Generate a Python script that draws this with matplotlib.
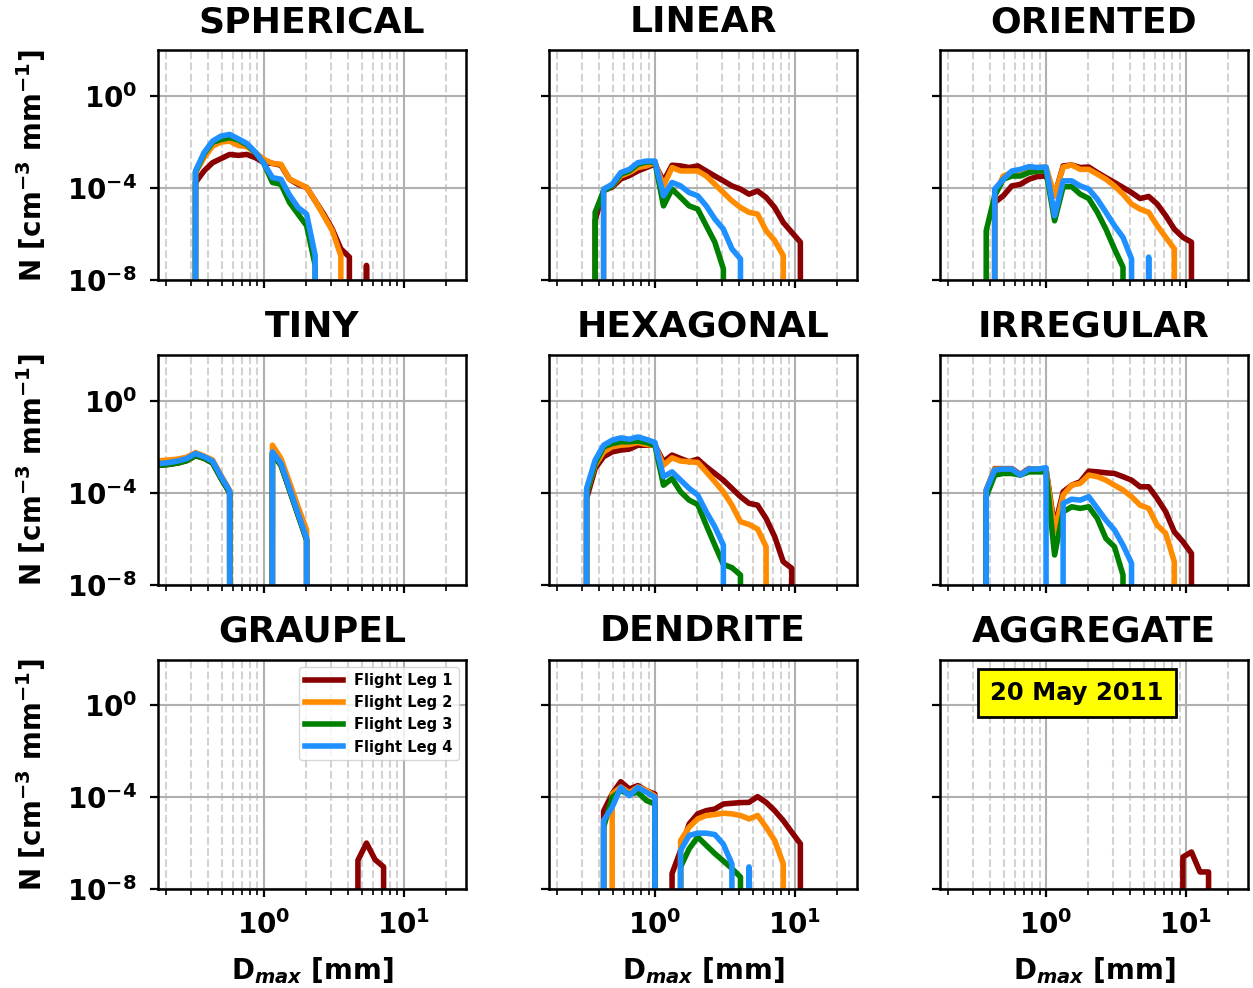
import numpy as np
import matplotlib.pyplot as plt
from matplotlib.ticker import NullLocator

plt.rcParams['font.weight'] = 'bold'
plt.rcParams['axes.titleweight'] = 'bold'
plt.rcParams['axes.labelweight'] = 'bold'

# Dmax bin centres [mm]
D = [0.140, 0.161, 0.185, 0.213, 0.245, 0.282, 0.325, 0.374, 0.430, 0.495,
     0.570, 0.656, 0.755, 0.869, 1.000, 1.151, 1.325, 1.525, 1.755, 2.020,
     2.325, 2.677, 3.081, 3.546, 4.082, 4.698, 5.408, 6.224, 7.165, 8.247,
     9.492, 10.93, 12.58, 14.48, 16.66]

legs = ["Flight Leg 1", "Flight Leg 2", "Flight Leg 3", "Flight Leg 4"]
colors = ["darkred", "darkorange", "green", "dodgerblue"]
titles = ["SPHERICAL", "LINEAR", "ORIENTED", "TINY", "HEXAGONAL", "IRREGULAR",
          "GRAUPEL", "DENDRITE", "AGGREGATE"]

# each leg: (first bin index, log10 N values), None = empty bin
spherical = [
    (6, [-3.75, -3.25, -2.89, -2.71, -2.53, -2.57, -2.53, -2.67, -2.89, -2.92, -3.0,
         -3.61, -3.83, -3.97, -4.55, -5.13, -5.78, -6.64, -7.0, None, -7.36]),
    (6, [-3.32, -2.67, -2.17, -1.99, -1.95, -2.14, -2.19, -2.45, -2.74, -2.92, -2.96,
         -3.61, -3.78, -3.97, -4.55, -5.2, -5.85, -6.93]),
    (6, [-3.3, -2.5, -2.0, -1.88, -1.8, -1.9, -2.1, -2.45, -2.92, -3.75, -3.83,
         -4.62, -5.13, -5.63, -7.36]),
    (6, [-3.25, -2.45, -1.95, -1.73, -1.66, -1.85, -2.05, -2.43, -2.92, -3.54, -3.61,
         -4.3, -4.84, -5.13, -6.93]),
]
linear = [
    (7, [-5.4, -4.1, -3.95, -3.6, -3.45, -3.25, -3.1, -2.95, -3.7, -3.0, -3.03, -3.1,
         -3.03, -3.25, -3.47, -3.68, -3.9, -4.04, -4.26, -4.12, -4.4, -4.84, -5.49,
         -5.92, -6.35]),
    (8, [-4.04, -3.9, -3.47, -3.32, -3.1, -3.03, -2.89, -3.9, -3.1, -3.25, -3.25,
         -3.25, -3.47, -3.83, -4.19, -4.55, -4.84, -5.05, -5.13, -5.85, -6.28, -6.93]),
    (7, [-5.05, -4.12, -3.9, -3.39, -3.25, -2.96, -2.86, -2.86, -4.77, -4.04, -4.4,
         -4.77, -4.91, -5.63, -6.35, -7.51]),
    (8, [-4.04, -3.83, -3.32, -3.18, -2.89, -2.82, -2.82, -4.33, -3.75, -3.9, -4.19,
         -4.33, -4.77, -5.34, -5.78, -6.64, -7.08]),
]
oriented = [
    (8, [-4.62, -4.33, -3.9, -3.83, -3.61, -3.49, -3.47, -4.33, -3.03, -2.99, -3.1,
         -3.08, -3.32, -3.54, -3.75, -3.97, -4.19, -4.45, -4.36, -4.69, -5.2, -5.78,
         -6.14, -6.35]),
    (8, [-4.3, -3.47, -3.32, -3.39, -3.25, -3.1, -3.08, -4.33, -3.08, -2.99, -3.18,
         -3.18, -3.39, -3.61, -3.9, -4.26, -4.69, -4.91, -5.05, -5.63, -6.14, -6.64]),
    (7, [-5.85, -4.33, -3.61, -3.47, -3.47, -3.32, -3.25, -3.25, -5.42, -3.94, -3.93,
         -4.26, -4.45, -5.05, -5.78, -6.64, -7.44]),
    (8, [-4.04, -3.61, -3.25, -3.18, -3.06, -3.1, -3.08, -5.2, -3.68, -3.68, -3.9,
         -4.04, -4.48, -5.05, -5.63, -6.14, -7.08, None, -7.0]),
]
tiny = [
    (0, [-2.85, -2.82, -2.8, -2.76, -2.7, -2.6, -2.38, -2.5, -2.7, -3.38, -4.0,
         None, None, None, None, -2.3, -2.8, -3.88, -4.97, -6.05]),
    (0, [-2.63, -2.63, -2.6, -2.57, -2.53, -2.45, -2.25, -2.4, -2.57, -3.25, -3.9,
         None, None, None, None, -1.93, -2.51, -3.55, -4.61, -5.62]),
    (0, [-2.85, -2.82, -2.8, -2.76, -2.7, -2.6, -2.38, -2.5, -2.7, -3.38, -4.0,
         None, None, None, None, -2.3, -2.8, -3.88, -4.97, -6.05]),
    (0, [-2.8, -2.77, -2.72, -2.68, -2.61, -2.51, -2.29, -2.43, -2.62, -3.3, -3.93,
         None, None, None, None, -2.22, -2.72, -3.81, -4.9, -5.99]),
]
hexagonal = [
    (6, [-4.25, -2.94, -2.43, -2.22, -2.14, -2.1, -1.93, -1.93, -1.93, -2.65, -2.36,
         -2.51, -2.65, -2.54, -2.87, -3.16, -3.45, -3.81, -4.17, -4.46, -4.54, -5.12,
         -5.91, -7.0, -7.29]),
    (6, [-4.0, -2.8, -2.22, -2.0, -1.93, -1.9, -1.81, -1.9, -1.93, -2.8, -2.48,
         -2.62, -2.65, -2.68, -3.09, -3.52, -3.96, -4.54, -5.26, -5.38, -5.58, -6.35]),
    (6, [-4.0, -2.72, -2.0, -1.86, -1.78, -1.78, -1.75, -1.81, -1.93, -3.67, -3.38,
         -3.96, -4.32, -4.51, -5.41, -6.28, -7.12, -7.26, -7.58]),
    (6, [-3.81, -2.58, -1.93, -1.71, -1.61, -1.67, -1.57, -1.68, -1.81, -3.3, -3.09,
         -3.45, -3.81, -4.1, -4.83, -5.48, -6.28]),
]
irregular = [
    (7, [-3.9, -2.95, -2.95, -2.95, -3.2, -2.95, -2.97, -2.97, -5.5, -3.96, -3.67,
         -3.52, -3.06, -3.09, -3.13, -3.16, -3.3, -3.45, -3.74, -3.74, -4.25, -4.83,
         -5.7, -6.13, -6.64]),
    (7, [-3.9, -2.97, -2.97, -2.97, -3.22, -2.97, -2.97, -2.95, -5.7, -4.1, -3.67,
         -3.59, -3.23, -3.3, -3.45, -3.67, -3.88, -4.17, -4.54, -4.68, -5.41, -5.77,
         -7.0]),
    (7, [-4.17, -3.23, -3.16, -3.16, -3.23, -3.09, -3.09, -3.09, -6.71, -4.83, -4.61,
         -4.68, -4.61, -5.12, -5.99, -6.35, -7.58]),
    (7, [-3.88, -3.01, -2.97, -2.97, -3.23, -2.97, -2.97, -2.91, None, -4.46, -4.28,
         -4.32, -4.17, -4.68, -5.19, -5.62, -6.28, -7.07]),
]
graupel = [
    (25, [-6.74, -5.99, -6.71, -7.03]),
    (0, []),
    (0, []),
    (0, []),
]
dendrite = [
    (8, [-4.6, -3.85, -3.32, -3.64, -3.49, -3.71, -3.86, None, -7.32, -6.31, -5.16,
         -4.72, -4.58, -4.51, -4.29, -4.26, -4.23, -4.22, -3.97, -4.22, -4.58, -5.01,
         -5.52, -6.02]),
    (9, [-3.86, -3.55, -3.8, -3.55, -3.7, -3.95, None, None, -5.88, -5.3, -4.94,
         -4.79, -4.75, -4.69, -4.72, -4.79, -4.94, -4.79, -5.3, -5.88, -6.89]),
    (8, [-5.3, -4.0, -3.71, -3.86, -3.78, -4.14, -4.29, None, None, -7.03, -6.24,
         -5.73, -6.09, -6.45, -6.77, -7.1, -7.47]),
    (8, [-5.01, -4.43, -3.57, -3.93, -3.57, -3.78, -4.0, None, None, -6.31, -5.66,
         -5.56, -5.56, -5.62, -6.04, -6.9, None, -7.03]),
]
aggregate = [
    (30, [-6.6, -6.38, -7.25, -7.25]),
    (0, []),
    (0, []),
    (0, []),
]

panels = [spherical, linear, oriented, tiny, hexagonal, irregular,
          graupel, dendrite, aggregate]

fig, axes = plt.subplots(3, 3, figsize=(12.53, 9.88), dpi=100, sharex=True, sharey=True)
fig.subplots_adjust(left=0.126, right=0.996, top=0.949, bottom=0.100,
                    wspace=0.27, hspace=0.326)

for ax, title, series in zip(axes.flat, titles, panels):
    for (start, vals), color, label in zip(series, colors, legs):
        N = np.zeros(len(D))
        for k, v in enumerate(vals):
            if v is not None:
                N[start + k] = 10.0 ** v
        ax.plot(D, N, color=color, lw=4.0, label=label)
    ax.set_xscale('log', nonpositive='clip')
    ax.set_yscale('log', nonpositive='clip')
    ax.set_title(title, fontsize=26, fontweight='bold', pad=13)
    ax.grid(which='major', color='#b0b0b0', lw=1.5)
    ax.xaxis.grid(which='minor', color='#d3d3d3', ls='--', lw=1.5)
    for sp in ax.spines.values():
        sp.set_linewidth(1.8)
    ax.tick_params(which='major', length=6, width=1.6, labelsize=20, pad=9)
    ax.tick_params(which='minor', length=4, width=1.2)

ax0 = axes[0, 0]
ax0.set_xlim(0.175, 27.7)
ax0.set_ylim(1e-8, 1e2)
ax0.set_yticks([1e-8, 1e-4, 1e0])
ax0.yaxis.set_minor_locator(NullLocator())

for ax in axes[:, 0]:
    ax.set_ylabel("N [cm$^{-3}$ mm$^{-1}$]", fontsize=20, fontweight='bold', labelpad=14)
for ax in axes[2, :]:
    ax.set_xlabel("D$_{max}$ [mm]", fontsize=20, fontweight='bold', labelpad=11)

axes[2, 0].legend(loc='upper right', prop={'weight': 'bold', 'size': 10.5},
                  handlelength=2.6, labelspacing=0.5)
axes[2, 2].text(0.445, 0.853, "20 May 2011", transform=axes[2, 2].transAxes,
                ha='center', va='center', fontsize=17.5, fontweight='bold',
                bbox=dict(boxstyle='square,pad=0.5', facecolor='yellow',
                          edgecolor='black', lw=2))

fig.savefig("out.png", dpi=100)
